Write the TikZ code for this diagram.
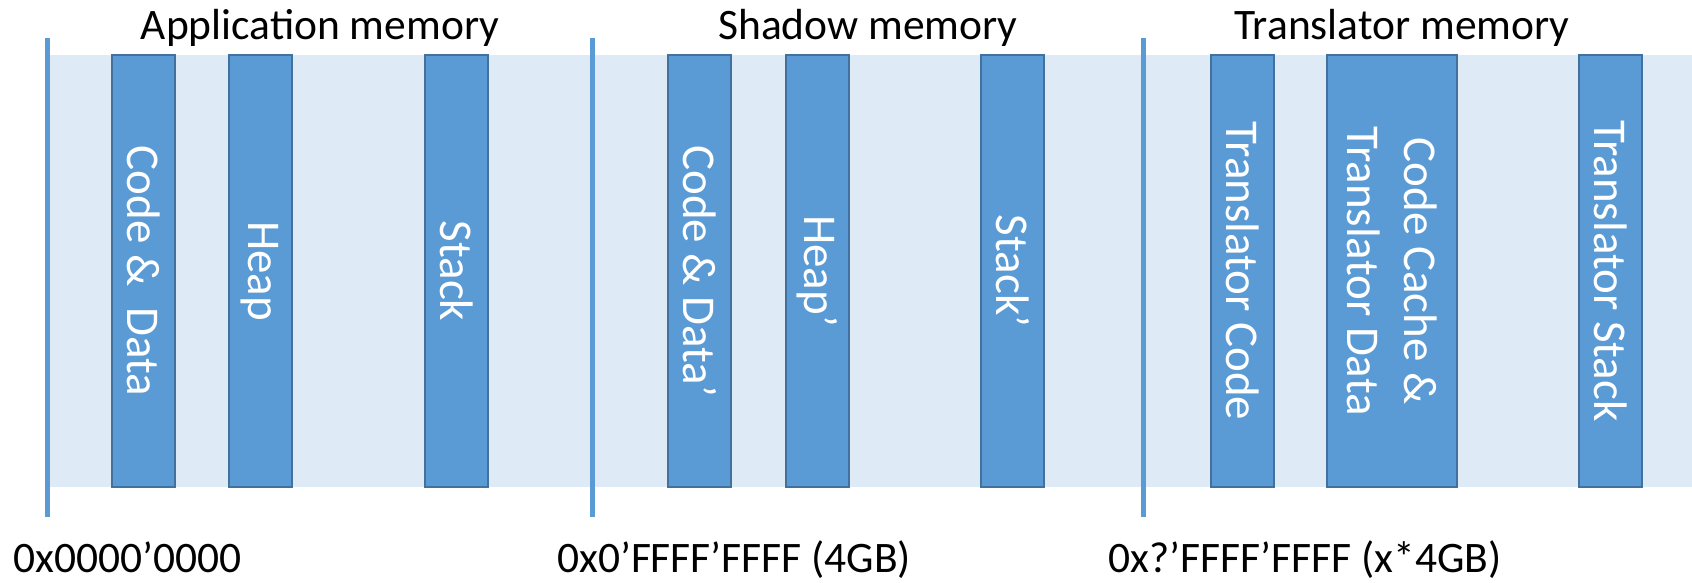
\documentclass[tikz,border=0pt]{standalone}
\usepackage{fontspec}
\setmainfont{Carlito}
\definecolor{bandc}{HTML}{DEEAF6}
\definecolor{linec}{HTML}{5B9BD5}
\definecolor{segfill}{HTML}{5B9BD5}
\definecolor{segborder}{HTML}{41719C}
\begin{document}
\begin{tikzpicture}[x=1pt,y=-1pt,
  sep/.style={draw=linec, line width=5pt},
  seg/.style={draw=segborder, fill=segfill, line width=2pt, rectangle, inner sep=0pt,
    rotate=-90, minimum width=432pt, minimum height=63pt, text=white,
    font=\fontsize{47}{57}\selectfont, align=center},
  title/.style={font=\fontsize{43.5}{52}\selectfont, anchor=base, inner sep=0pt},
  addr/.style={font=\fontsize{43.5}{52}\selectfont, anchor=base west, inner sep=0pt}]
\useasboundingbox (0,0) rectangle (1692,583);
% background band
\fill[bandc] (48,55) rectangle (1692,487);
% separator lines
\coordinate (l1t) at (47.5,38);  \coordinate (l1b) at (47.5,517);
\coordinate (l2t) at (592,38);   \coordinate (l2b) at (592,517);
\coordinate (l3t) at (1143,38);  \coordinate (l3b) at (1143,517);
\draw[sep] (l1t) -- (l1b);
\draw[sep] (l2t) -- (l2b);
\draw[sep] (l3t) -- (l3b);
% segments
\node[seg] (cd) at (143.5,271) {Code \&\ \ Data};
\node[seg] (heap) at (260,271) {Heap};
\node[seg] (stack) at (456.5,271) {Stack};
\node[seg] (cds) at (699.5,271) {Code \& Data’};
\node[seg] (heaps) at (817,271) {Heap’};
\node[seg] (stacks) at (1012.5,271) {Stack’};
\node[seg] (tcode) at (1242.5,271) {Translator Code};
\node[seg, minimum height=130pt] (ccache) at (1392,271) {Code Cache \&\\Translator Data};
\node[seg] (tstack) at (1610.5,271) {Translator Stack};
% titles
\node[title] (t1) at (320,40) {Application memory};
\node[title] (t2) at (868,40) {Shadow memory};
\node[title] (t3) at (1402,40) {Translator memory};
% addresses
\node[addr] (a1) at (13,572) {0x0000’0000};
\node[addr] (a2) at (557,572) {0x0’FFFF’FFFF (4GB)};
\node[addr] (a3) at (1108,572) {0x?’FFFF’FFFF (x*4GB)};
\end{tikzpicture}
\end{document}
